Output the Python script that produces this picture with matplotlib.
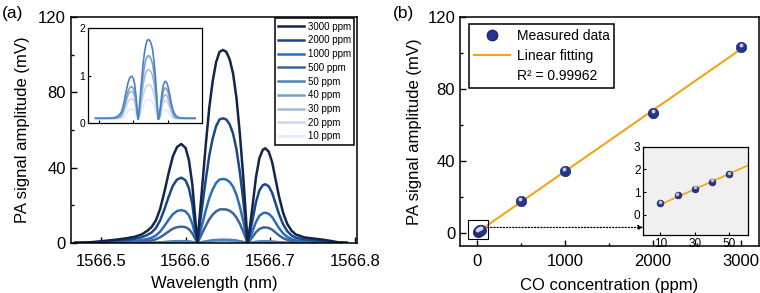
import numpy as np
import matplotlib
matplotlib.use("Agg")
import matplotlib.pyplot as plt
from matplotlib.lines import Line2D
from matplotlib.patches import Rectangle
from matplotlib.ticker import MultipleLocator
from matplotlib.transforms import offset_copy

plt.rcParams['font.family'] = ['Liberation Sans', 'DejaVu Sans']

# ---- panel (a): PA spectra ----
wavelength = [1566.470, 1566.480, 1566.490, 1566.500, 1566.510, 1566.520, 1566.530, 1566.540,
              1566.548, 1566.555, 1566.560, 1566.565, 1566.570, 1566.575, 1566.580, 1566.585,
              1566.590, 1566.595, 1566.600, 1566.604, 1566.608, 1566.611, 1566.614,
              1566.617, 1566.620, 1566.624, 1566.628, 1566.632, 1566.636, 1566.640, 1566.644,
              1566.648, 1566.652, 1566.656, 1566.660, 1566.664, 1566.668, 1566.671, 1566.673,
              1566.676, 1566.679, 1566.683, 1566.687, 1566.691, 1566.694, 1566.698, 1566.702,
              1566.706, 1566.710, 1566.715, 1566.720, 1566.725, 1566.730, 1566.740, 1566.750,
              1566.760, 1566.770, 1566.780, 1566.790]

sig_3000 = [0, 0.2, 0.5, 0.9, 1.4, 1.9, 2.5, 3.3, 4.5, 6.5, 8.5, 12, 18, 27, 37, 46, 51, 52.6, 50.5, 44, 31, 15, 0,
            16, 32, 53, 72, 86, 96, 101.5, 102.5, 101.5, 97.5, 90, 77, 58, 35, 15, 0,
            9, 20, 35, 45, 49.5, 50.3, 48.5, 43, 34, 25, 16, 10, 6.5, 4.5, 3.0, 2.4, 1.9, 1.2, 0.4, 0]
sig_2000 = [0, 0.1, 0.3, 0.6, 0.9, 1.3, 1.7, 2.2, 3.0, 4.3, 5.6, 7.9, 11.9, 17.8, 24.4, 30.4, 33.7, 34.7, 33.3, 29.0, 20.5, 9.9, 0,
            10.3, 20.7, 34.2, 46.5, 55.5, 62.0, 65.6, 66.2, 65.6, 63.0, 58.1, 49.7, 37.5, 22.6, 9.7, 0,
            5.6, 12.4, 21.7, 27.9, 30.7, 31.2, 30.1, 26.7, 21.1, 15.5, 9.9, 6.2, 4.0, 2.8, 1.9, 1.5, 1.2, 0.7, 0.2, 0]
sig_1000 = [0, 0.1, 0.2, 0.3, 0.5, 0.6, 0.8, 1.1, 1.5, 2.2, 2.8, 4.0, 6.0, 9.0, 12.3, 15.3, 17.0, 17.5, 16.8, 14.6, 10.3, 5.0, 0,
            5.3, 10.6, 17.6, 23.9, 28.5, 31.9, 33.7, 34.0, 33.7, 32.4, 29.9, 25.6, 19.3, 11.6, 5.0, 0,
            2.9, 6.4, 11.2, 14.4, 15.8, 16.1, 15.5, 13.8, 10.9, 8.0, 5.1, 3.2, 2.1, 1.4, 1.0, 0.8, 0.6, 0.4, 0.1, 0]
sig_500 = [0, 0, 0.1, 0.1, 0.2, 0.3, 0.4, 0.5, 0.7, 1.1, 1.4, 2.0, 3.0, 4.5, 6.1, 7.6, 8.4, 8.7, 8.4, 7.3, 5.1, 2.5, 0,
           2.8, 5.6, 9.3, 12.6, 15.1, 16.8, 17.8, 17.9, 17.8, 17.1, 15.8, 13.5, 10.2, 6.1, 2.6, 0,
           1.5, 3.3, 5.8, 7.4, 8.2, 8.3, 8.0, 7.1, 5.6, 4.1, 2.6, 1.7, 1.1, 0.7, 0.5, 0.4, 0.3, 0.2, 0.1, 0]
sig_50 = [0.1, 0.1, 0.1, 0.1, 0.1, 0.1, 0.1, 0.11, 0.12, 0.15, 0.18, 0.23, 0.34, 0.51, 0.70, 0.86, 0.96, 0.99, 0.94, 0.81, 0.56, 0.30, 0.08,
          0.28, 0.55, 0.89, 1.22, 1.46, 1.63, 1.74, 1.76, 1.74, 1.67, 1.55, 1.32, 1.00, 0.60, 0.26, 0.08,
          0.16, 0.35, 0.61, 0.79, 0.87, 0.88, 0.84, 0.74, 0.60, 0.44, 0.28, 0.20, 0.15, 0.12, 0.11, 0.1, 0.1, 0.1, 0.1, 0.1]
sig_40 = [0.1, 0.1, 0.1, 0.1, 0.1, 0.1, 0.1, 0.1, 0.1, 0.12, 0.14, 0.18, 0.26, 0.40, 0.54, 0.67, 0.75, 0.77, 0.73, 0.63, 0.44, 0.22, 0.08,
          0.22, 0.44, 0.72, 0.98, 1.18, 1.32, 1.40, 1.42, 1.40, 1.34, 1.25, 1.07, 0.80, 0.48, 0.21, 0.08,
          0.13, 0.29, 0.51, 0.66, 0.73, 0.74, 0.71, 0.62, 0.50, 0.37, 0.24, 0.15, 0.12, 0.1, 0.1, 0.1, 0.1, 0.1, 0.1, 0.1]
sig_30 = [0.1, 0.1, 0.1, 0.1, 0.1, 0.1, 0.1, 0.1, 0.1, 0.11, 0.12, 0.15, 0.23, 0.34, 0.47, 0.59, 0.65, 0.67, 0.64, 0.55, 0.38, 0.19, 0.08,
          0.18, 0.35, 0.57, 0.78, 0.94, 1.05, 1.11, 1.13, 1.11, 1.07, 0.99, 0.85, 0.64, 0.39, 0.17, 0.08,
          0.11, 0.24, 0.42, 0.54, 0.59, 0.60, 0.57, 0.50, 0.41, 0.30, 0.19, 0.12, 0.1, 0.1, 0.1, 0.1, 0.1, 0.1, 0.1, 0.1]
sig_20 = [0.1, 0.1, 0.1, 0.1, 0.1, 0.1, 0.1, 0.1, 0.1, 0.1, 0.1, 0.12, 0.18, 0.27, 0.37, 0.45, 0.50, 0.52, 0.49, 0.43, 0.30, 0.15, 0.08,
          0.13, 0.25, 0.41, 0.56, 0.67, 0.75, 0.80, 0.81, 0.80, 0.77, 0.71, 0.61, 0.46, 0.28, 0.12, 0.08,
          0.1, 0.19, 0.33, 0.43, 0.47, 0.48, 0.46, 0.40, 0.32, 0.24, 0.15, 0.1, 0.1, 0.1, 0.1, 0.1, 0.1, 0.1, 0.1, 0.1]
sig_10 = [0.1, 0.1, 0.1, 0.1, 0.1, 0.1, 0.1, 0.1, 0.1, 0.1, 0.1, 0.1, 0.11, 0.15, 0.21, 0.26, 0.29, 0.30, 0.29, 0.25, 0.17, 0.1, 0.08,
          0.1, 0.16, 0.25, 0.35, 0.41, 0.46, 0.49, 0.50, 0.49, 0.47, 0.44, 0.38, 0.28, 0.17, 0.1, 0.08,
          0.1, 0.11, 0.19, 0.25, 0.28, 0.28, 0.27, 0.23, 0.19, 0.14, 0.1, 0.1, 0.1, 0.1, 0.1, 0.1, 0.1, 0.1, 0.1, 0.1]

spec_labels = ['3000 ppm', '2000 ppm', '1000 ppm', '500 ppm', '50 ppm', '40 ppm', '30 ppm', '20 ppm', '10 ppm']
spec_data = [sig_3000, sig_2000, sig_1000, sig_500, sig_50, sig_40, sig_30, sig_20, sig_10]
spec_colors = ['#13254a', '#1b4888', '#2a6cc0', '#3d6496', '#4a82c2', '#76a0cc', '#a6bad6', '#c9d6ee', '#e3ebf8']

# ---- panel (b): amplitude vs concentration ----
conc = [10, 20, 30, 40, 50, 500, 1000, 2000, 3000]
amp = [0.5, 0.85, 1.15, 1.45, 1.8, 17.5, 34.2, 66.5, 103.0]
r2_text = 'R² = 0.99962'

fig = plt.figure(figsize=(7.6, 2.93), dpi=100)

# ---------- (a) ----------
ax1 = fig.add_axes([0.0934, 0.1706, 0.3763, 0.7713])
for lab, y, c in list(zip(spec_labels, spec_data, spec_colors))[::-1]:
    ax1.plot(wavelength, y, color=c, lw=1.8, label=lab)
ax1.set_xlim(1566.465, 1566.802)
ax1.set_ylim(0, 120)
ax1.xaxis.set_major_locator(MultipleLocator(0.1))
ax1.xaxis.set_minor_locator(MultipleLocator(0.05))
ax1.yaxis.set_major_locator(MultipleLocator(40))
ax1.yaxis.set_minor_locator(MultipleLocator(20))
ax1.xaxis.set_major_formatter(plt.FuncFormatter(lambda v, p: f'{v:.1f}'))
ax1.tick_params(which='both', direction='in', labelsize=12, width=1)
ax1.tick_params(which='major', length=4)
ax1.tick_params(which='minor', length=2.5)
ax1.tick_params(axis='x', pad=8)
ax1.set_xlabel('Wavelength (nm)', fontsize=12, labelpad=5)
ax1.set_ylabel('PA signal amplitude (mV)', fontsize=12, labelpad=6)
for s in ax1.spines.values():
    s.set_linewidth(1.1)
h, l = ax1.get_legend_handles_labels()
leg1 = ax1.legend(h[::-1], l[::-1], loc='upper right', bbox_to_anchor=(0.99, 0.994),
                  borderaxespad=0, fontsize=7, handlelength=2.6, handletextpad=0.4,
                  labelspacing=0.38, fancybox=False, framealpha=1, edgecolor='black',
                  borderpad=0.35)
leg1.get_frame().set_linewidth(1.1)
fig.text(0.003, 0.955, '(a)', fontsize=12.5, ha='left', va='center')

# inset (a)
axi1 = fig.add_axes([0.1158, 0.580, 0.150, 0.324])
for y, c in list(zip(spec_data[4:], spec_colors[4:]))[::-1]:
    axi1.plot(wavelength[2:-1], y[2:-1], color=c, lw=1.2)
axi1.set_xlim(1566.468, 1566.80)
axi1.set_ylim(0, 2)
axi1.xaxis.set_major_locator(MultipleLocator(0.1))
axi1.yaxis.set_major_locator(MultipleLocator(1))
axi1.tick_params(direction='in', labelsize=7.5, length=2.5, width=0.8, pad=2)
axi1.set_xticklabels([])
for s in axi1.spines.values():
    s.set_linewidth(0.9)

# ---------- (b) ----------
ax2 = fig.add_axes([0.6053, 0.1604, 0.393, 0.7826])
slope, intercept = np.polyfit(conc, amp, 1)
fit_x = np.array([conc[0], conc[-1]])
ax2.plot(fit_x, slope * fit_x + intercept, color='#f2a516', lw=1.5, zorder=2)
ax2.plot(conc, amp, 'o', ms=7.5, color='#27348b', mec='#1c2670', mew=0.5, zorder=3)
hl2 = offset_copy(ax2.transData, fig=fig, x=-0.3, y=1.4, units='points')
ax2.plot(conc, amp, 'o', ms=2.8, color='#d9dbe9', mec='none', alpha=0.9, transform=hl2, zorder=4)
ax2.set_xlim(-190, 3200)
ax2.set_ylim(-7.3, 120)
ax2.xaxis.set_major_locator(MultipleLocator(1000))
ax2.xaxis.set_minor_locator(MultipleLocator(500))
ax2.yaxis.set_major_locator(MultipleLocator(40))
ax2.yaxis.set_minor_locator(MultipleLocator(20))
ax2.tick_params(which='both', direction='in', labelsize=12, width=1)
ax2.tick_params(which='major', length=4)
ax2.tick_params(which='minor', length=2.5)
ax2.tick_params(axis='x', pad=6)
ax2.set_xlabel('CO concentration (ppm)', fontsize=12, labelpad=6)
ax2.set_ylabel('PA signal amplitude (mV)', fontsize=12, labelpad=4)
for s in ax2.spines.values():
    s.set_linewidth(1.1)

handles2 = [Line2D([], [], marker='o', ls='none', ms=7.5, color='#27348b', mec='#1c2670'),
            Line2D([], [], color='#f2a516', lw=1.5),
            Line2D([], [], ls='none')]
leg2 = ax2.legend(handles2, ['Measured data', 'Linear fitting', r2_text], loc='upper left',
                  bbox_to_anchor=(0.031, 0.968), borderaxespad=0, fontsize=10,
                  handlelength=2.6, handletextpad=0.45, labelspacing=0.45, fancybox=False,
                  framealpha=1, edgecolor='black', borderpad=0.35)
leg2.get_frame().set_linewidth(1.1)
fig.text(0.517, 0.955, '(b)', fontsize=12.5, ha='left', va='center')

# zoom box around low concentrations
box_x = (-95, 123)
box_y = (-3.5, 7.3)
ax2.add_patch(Rectangle((box_x[0], box_y[0]), box_x[1] - box_x[0], box_y[1] - box_y[0],
                        fill=False, ec='black', lw=0.8, zorder=5))

# inset (b)
axi2 = fig.add_axes([0.8464, 0.198, 0.138, 0.301])
axi2.set_facecolor('#f0f0f0')
fit_xi = np.array([conc[0], 61])
axi2.plot(fit_xi, slope * fit_xi + intercept, color='#f2a516', lw=1.2, zorder=2)
axi2.plot(conc[:5], amp[:5], 'o', ms=5, color='#27348b', mec='#1c2670', mew=0.4, zorder=3)
hl3 = offset_copy(axi2.transData, fig=fig, x=-0.2, y=1.0, units='points')
axi2.plot(conc[:5], amp[:5], 'o', ms=2.6, color='#c9c3b4', mec='none', transform=hl3, zorder=4)
axi2.set_xlim(0, 61)
axi2.set_ylim(-0.9, 3)
axi2.set_xticks([10, 30, 50])
axi2.set_yticks([0, 1, 2, 3])
axi2.tick_params(direction='in', labelsize=8.5, length=2.5, width=0.8, pad=2)
for s in axi2.spines.values():
    s.set_linewidth(0.9)

ax2.annotate('', xy=(0, 3.0), xycoords=(axi2.transAxes, ax2.transData),
             xytext=(box_x[1], 3.0), textcoords='data',
             arrowprops=dict(arrowstyle='-|>', ls=(0, (1, 1.5)), color='black', lw=0.9,
                             mutation_scale=7, shrinkA=0, shrinkB=0))

fig.savefig('out.png', dpi=100)
